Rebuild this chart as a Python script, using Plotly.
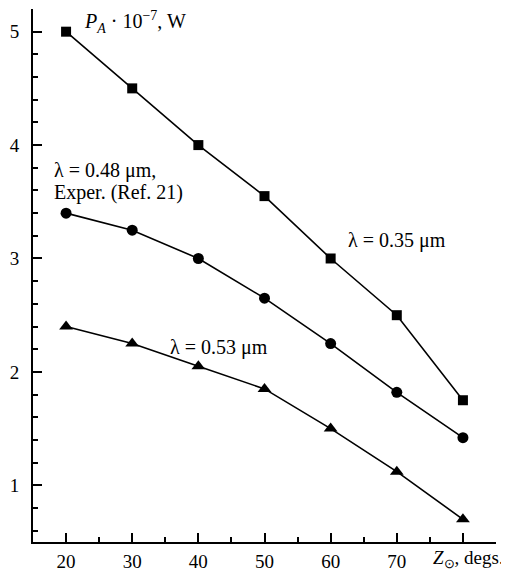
import plotly.graph_objects as go

zenith = [20, 30, 40, 50, 60, 70, 80]
p_035 = [5.0, 4.5, 4.0, 3.55, 3.0, 2.5, 1.75]
p_048 = [3.4, 3.25, 3.0, 2.65, 2.25, 1.82, 1.42]
p_053 = [2.4, 2.25, 2.05, 1.85, 1.5, 1.12, 0.7]

x_ticks = [20, 30, 40, 50, 60, 70, 80]
x_ticktext = ["20", "30", "40", "50", "60", "70", ""]
y_ticks = [1, 2, 3, 4, 5]

FONT = "Liberation Serif"
FS = 20

fig = go.Figure()
for ys, sym, size in [(p_035, "square", 10), (p_048, "circle", 11), (p_053, "triangle-up", 12)]:
    fig.add_trace(go.Scatter(
        x=zenith, y=ys, mode="lines+markers",
        line=dict(color="black", width=1.6),
        marker=dict(symbol=sym, size=size, color="black"),
        showlegend=False, cliponaxis=False,
    ))

# page offset of the figure (default body margin)
OFF = 8
FW, FH = 509 - OFF, 573 - OFF
# plot area in page pixels: x 33..496, y 9..542
PX0, PX1, PY0, PY1 = 33, 496, 9, 542
L, R, T, B = PX0 - OFF, FW - (PX1 - OFF), PY0 - OFF, FH - (PY1 - OFF)
fig.update_layout(
    width=FW, height=FH,
    margin=dict(l=L, r=R, t=T, b=B, autoexpand=False),
    paper_bgcolor="white", plot_bgcolor="white",
    font=dict(family=FONT, size=FS, color="black"),
    xaxis=dict(
        range=[15, 85], tickvals=x_ticks, ticktext=x_ticktext, automargin=False,
        ticks="inside", ticklen=9, tickwidth=1.5, tickcolor="black",
        showline=True, linecolor="black", linewidth=2, showgrid=False, zeroline=False,
        minor=dict(dtick=5, tick0=15, ticks="inside", ticklen=5, tickwidth=1.5, tickcolor="black"),
        ticklabelstandoff=1, tickfont=dict(size=19),
    ),
    yaxis=dict(
        range=[0.5, 5.2], tickvals=y_ticks, automargin=False,
        ticks="inside", ticklen=9, tickwidth=1.5, tickcolor="black",
        showline=True, linecolor="black", linewidth=2, showgrid=False, zeroline=False,
        minor=dict(dtick=0.2, tick0=0, ticks="inside", ticklen=5, tickwidth=1.5, tickcolor="black"),
        ticklabelstandoff=8, tickfont=dict(size=19),
    ),
)

ann = [
    dict(x=82, y=22, text="<i>P<sub>A</sub></i> · 10<sup>−7</sup>, W", anchor="left", size=FS),
    dict(x=346, y=240, text="λ = 0.35 μm", anchor="left", size=FS),
    dict(x=52, y=170, text="λ = 0.48 μm,", anchor="left", size=FS),
    dict(x=52, y=193, text="Exper. (Ref. 21)", anchor="left", size=FS),
    dict(x=168, y=347, text="λ = 0.53 μm", anchor="left", size=FS),
    dict(x=506, y=559, text="<i>Z</i><sub>⊙</sub>, degs.", anchor="right", size=19),
]
W, H = PX1 - PX0, PY1 - PY0
for a in ann:
    fig.add_annotation(
        x=(a["x"] - PX0) / W, y=1 - (a["y"] - PY0) / H, xref="paper", yref="paper",
        text=a["text"], showarrow=False, xanchor=a["anchor"], yanchor="middle",
        font=dict(family=FONT, size=a["size"], color="black"),
    )

fig.write_html("out.html")
